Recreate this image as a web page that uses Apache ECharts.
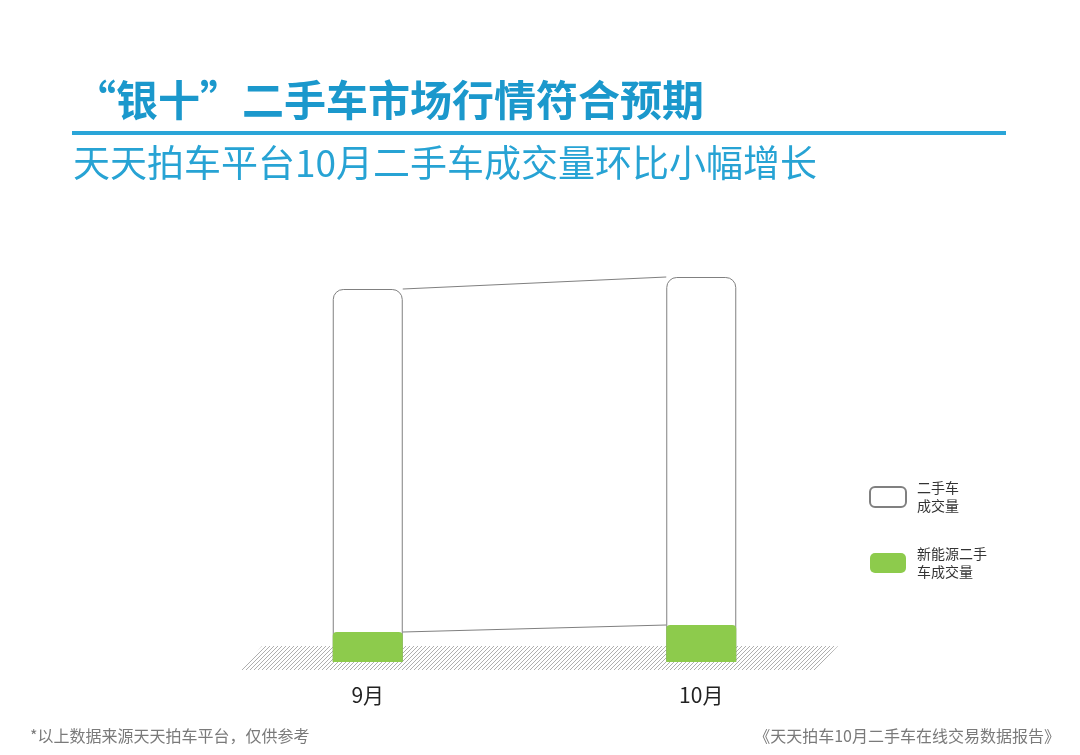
<!DOCTYPE html>
<html>
<head>
<meta charset="utf-8">
<script src="https://cdn.jsdelivr.net/npm/echarts@6/dist/echarts.min.js"></script>
<style>
  html, body { margin: 0; padding: 0; background: #fff; }
  #main { width: 1080px; height: 755px; }
</style>
</head>
<body>
<div id="main"></div>
<script>
// 月份
var months = ['9月', '10月'];
// 二手车成交量（相对值，按图读出）
var totalVolume = [373, 385];
// 新能源二手车成交量
var nevVolume = [30, 37];
var legendNames = ['二手车成交量', '新能源二手车成交量'];
var legendLabels = { '二手车成交量': '二手车\n成交量', '新能源二手车成交量': '新能源二手\n车成交量' };

var FONT = '"Noto Sans CJK SC", "Noto Sans", sans-serif';
var BLUE = '#1b98cc';
var BAR_W = 70;

// 斜线底纹
function hatchPattern() {
    var c = document.createElement('canvas');
    c.width = 4; c.height = 4;
    var ctx = c.getContext('2d');
    ctx.strokeStyle = '#9a9a9a';
    ctx.lineWidth = 0.8;
    ctx.beginPath();
    ctx.moveTo(0, 4); ctx.lineTo(4, 0);
    ctx.moveTo(-1, 1); ctx.lineTo(1, -1);
    ctx.moveTo(3, 5); ctx.lineTo(5, 3);
    ctx.stroke();
    return c;
}

// 连接两根柱子顶部的折线
function linkRenderer(values) {
    return function (params, api) {
        var i = params.dataIndex;
        var p0 = api.coord([i, values[i]]);
        var p1 = api.coord([i + 1, values[i + 1]]);
        return {
            type: 'line',
            shape: { x1: p0[0] + BAR_W / 2, y1: p0[1], x2: p1[0] - BAR_W / 2, y2: p1[1] },
            style: { stroke: '#808080', lineWidth: 1 }
        };
    };
}

var chart = echarts.init(document.getElementById('main'));
var option = {
    backgroundColor: '#fff',
    animation: false,
    grid: { left: 201, right: 212, top: 262, bottom: 93 },
    legend: {
        data: legendNames,
        orient: 'vertical',
        left: 869,
        top: 479,
        padding: 0,
        itemWidth: 36,
        itemHeight: 20,
        itemGap: 30,
        icon: 'roundRect',
        formatter: function (n) { return legendLabels[n]; },
        textStyle: { fontFamily: FONT, fontSize: 14, lineHeight: 18, color: '#333', padding: [0, 0, 0, 6] }
    },
    xAxis: {
        type: 'category',
        data: months,
        axisLine: { show: false },
        axisTick: { show: false },
        axisLabel: { margin: 23, fontFamily: FONT, fontSize: 21, color: '#222' }
    },
    yAxis: { type: 'value', min: 0, max: 400, show: false, splitLine: { show: false } },
    graphic: [
        {
            type: 'polygon', z: -1,
            shape: { points: [[262, 646], [838, 646], [816, 670], [241, 670]] },
            style: { fill: { image: hatchPattern(), repeat: 'repeat' } }
        },
        {
            type: 'text', left: 74, top: 79,
            style: { text: '“银十”二手车市场行情符合预期', font: 'bold 42px ' + FONT, fill: BLUE }
        },
        {
            type: 'rect',
            shape: { x: 72, y: 131, width: 934, height: 4 },
            style: { fill: '#2aa5d8' }
        },
        {
            type: 'text', left: 73, top: 144,
            style: { text: '天天拍车平台10月二手车成交量环比小幅增长', font: '37px ' + FONT, fill: '#27a3d4' }
        },
        {
            type: 'text', left: 30, top: 728,
            style: { text: '*以上数据来源天天拍车平台，仅供参考', font: '16px ' + FONT, fill: '#7a7a7a' }
        },
        {
            type: 'text', right: 20, top: 728,
            style: { text: '《天天拍车10月二手车在线交易数据报告》', font: '16px ' + FONT, fill: '#7a7a7a' }
        }
    ],
    series: [
        {
            name: '二手车成交量',
            type: 'bar',
            data: totalVolume,
            barWidth: BAR_W,
            barGap: '-100%',
            z: 2,
            itemStyle: { color: '#fff', borderColor: '#808080', borderWidth: 1, borderRadius: [10, 10, 0, 0] }
        },
        {
            name: '新能源二手车成交量',
            type: 'bar',
            data: nevVolume,
            barWidth: BAR_W,
            barGap: '-100%',
            z: 3,
            itemStyle: { color: '#8dcb4c', borderRadius: [4, 4, 0, 0] }
        },
        {
            type: 'custom',
            z: 4,
            data: [[0]],
            encode: { x: 0 },
            renderItem: linkRenderer(totalVolume)
        },
        {
            type: 'custom',
            z: 4,
            data: [[0]],
            encode: { x: 0 },
            renderItem: linkRenderer(nevVolume)
        }
    ]
};
chart.setOption(option);
</script>
</body>
</html>
